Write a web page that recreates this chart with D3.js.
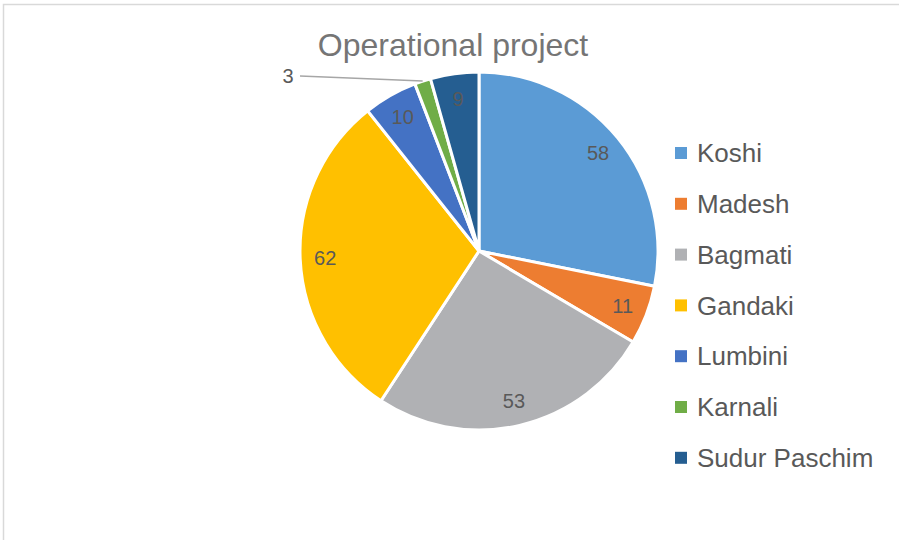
<!DOCTYPE html>
<html><head><meta charset="utf-8">
<script src="https://cdn.jsdelivr.net/npm/d3@7"></script>
<style>html,body{margin:0;padding:0;background:#fff;overflow:hidden}</style>
</head><body><svg id="c" width="899" height="540"></svg>
<script>
const categories = ["Koshi","Madesh","Bagmati","Gandaki","Lumbini","Karnali","Sudur Paschim"];
const values = [58, 11, 53, 62, 10, 3, 9];
const colors = ["#5b9bd5","#ed7d31","#b0b1b4","#ffc000","#4472c4","#70ad47","#255e91"];
const title = "Operational project";

const svg = d3.select("#c");
const font = "'Liberation Sans', Arial, sans-serif";
svg.append("rect").attr("x",3.5).attr("y",4.5).attr("width",1000).attr("height",1000)
  .attr("fill","none").attr("stroke","#d9d9d9").attr("stroke-width",1.5);

svg.append("text").attr("x",453).attr("y",56).attr("text-anchor","middle")
  .attr("font-family",font).attr("font-size",32).attr("fill","#757575").text(title);

const cx = 479, cy = 251, r = 179;
const data = categories.map((c,i)=>({name:c,value:values[i],color:colors[i]}));
const pie = d3.pie().value(d=>d.value).sort(null);
const arcs = pie(data);
const arc = d3.arc().innerRadius(0).outerRadius(r);
const g = svg.append("g").attr("transform",`translate(${cx},${cy})`);
g.selectAll("path").data(arcs).join("path")
  .attr("d",arc).attr("fill",d=>d.data.color)
  .attr("stroke","#fff").attr("stroke-width",3).attr("stroke-linejoin","round");

const labelArc = d3.arc().innerRadius(r*0.86).outerRadius(r*0.86);
arcs.forEach(a=>{
  if (a.data.value <= 3) {
    const mid = (a.startAngle+a.endAngle)/2;
    const ex = r*Math.sin(mid), ey = -r*Math.cos(mid);
    const lx = 300-cx, ly = 76-cy;
    g.append("line").attr("x1",ex).attr("y1",ey).attr("x2",lx).attr("y2",ly)
      .attr("stroke","#a6a6a6").attr("stroke-width",1.5);
    g.append("text").attr("x",lx-12).attr("y",ly).attr("dy","0.35em").attr("text-anchor","middle")
      .attr("font-family",font).attr("font-size",20).attr("fill","#595959").text(a.data.value);
  } else {
    const [x,y] = labelArc.centroid(a);
    g.append("text").attr("x",x).attr("y",y).attr("dy","0.35em").attr("text-anchor","middle")
      .attr("font-family",font).attr("font-size",20).attr("fill","#595959").text(a.data.value);
  }
});

const leg = svg.append("g");
const y0 = 153, step = 50.8;
data.forEach((d,i)=>{
  const y = y0 + i*step;
  leg.append("rect").attr("x",675).attr("y",y-6).attr("width",12).attr("height",12).attr("fill",d.color);
  leg.append("text").attr("x",697).attr("y",y).attr("dy","0.35em")
    .attr("font-family",font).attr("font-size",26).attr("fill","#595959").text(d.name);
});
</script></body></html>
